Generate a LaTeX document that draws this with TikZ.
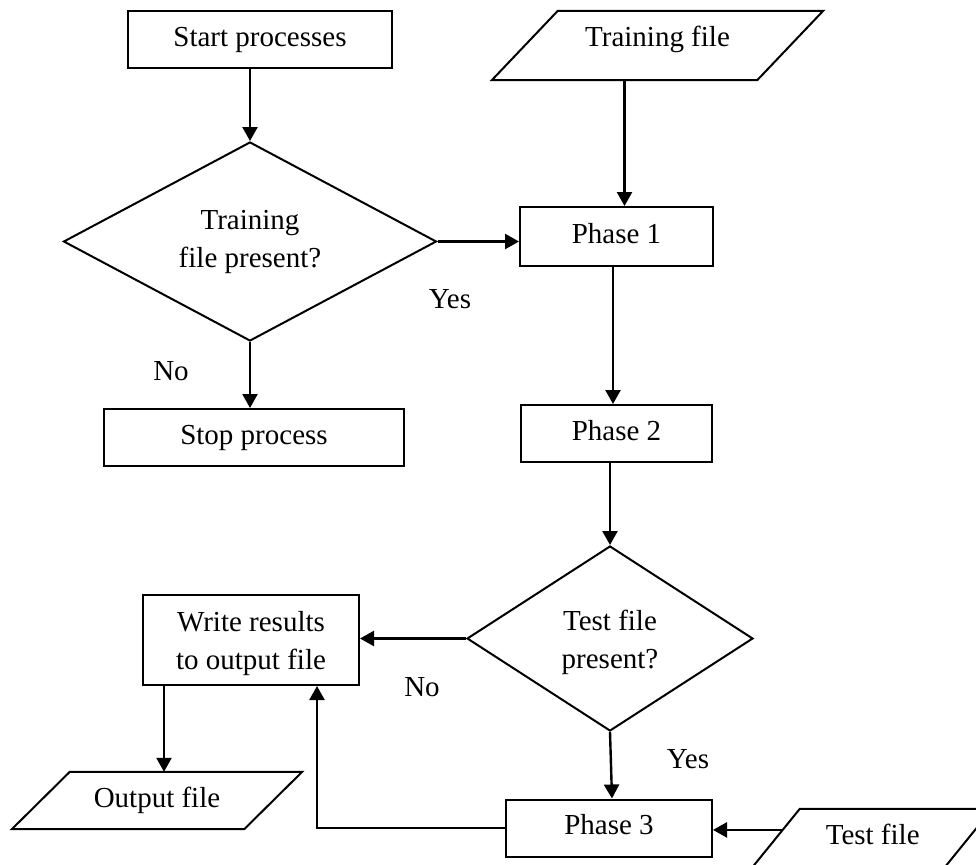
\documentclass[tikz,border=0pt]{standalone}
\usepackage{fontspec}
\setmainfont{Liberation Serif}
\usetikzlibrary{shapes.geometric,arrows.meta,calc}

% outline of an input/output parallelogram drawn round a (borderless) node
\newcommand\ioshape[2]{%
  \draw[line width=2pt,line join=miter]
    ([xshift=#2]#1.north west) -- ([xshift=#2]#1.north east) --
    ([xshift=-#2]#1.south east) -- ([xshift=-#2]#1.south west) -- cycle;}

\begin{document}
\begin{tikzpicture}[x=1pt,y=-1pt,
  every node/.style={font=\fontsize{29}{38}\selectfont},
  procbox/.style={draw,line width=2pt,rectangle,inner sep=0pt,
    text height=20pt,text depth=6.4pt,align=center},
  tallbox/.style={draw,line width=2pt,rectangle,inner sep=0pt,align=center},
  iobox/.style={rectangle,inner sep=0pt,text height=20pt,text depth=6.4pt},
  decision/.style={draw,line width=2pt,diamond,inner sep=0pt,align=center},
  flow/.style={line width=2.4pt,-{Triangle[length=14pt,width=15pt]}},
  lbl/.style={inner sep=0pt}
]
\useasboundingbox (0,0) rectangle (976,864);
\clip (0,0) rectangle (976,864);

% process boxes
\node[procbox,minimum width=264pt,minimum height=57pt] (start) at (260,39.5) {Start processes};
\node[procbox,minimum width=193pt,minimum height=59pt] (p1) at (616.5,236.5) {Phase 1};
\node[procbox,minimum width=300pt,minimum height=57pt] (stop) at (254,437.5) {Stop process};
\node[procbox,minimum width=191pt,minimum height=57pt] (p2) at (616.5,433.5) {Phase 2};
\node[tallbox,minimum width=216pt,minimum height=90pt] (wr) at (251,640) {\rule{0pt}{28pt}Write results\\to output file};
\node[procbox,minimum width=206pt,minimum height=57pt] (p3) at (609,828) {Phase 3};

% decisions
\node[decision,minimum width=373pt,minimum height=199pt,shape aspect=1.875] (d1) at (250,241.5) {Training\\file present?};
\node[decision,minimum width=286pt,minimum height=185pt,shape aspect=1.55] (d2) at (610,638.5) {\rule{0pt}{27.4pt}Test file\\present?};

% input / output data
\node[iobox,minimum width=265pt,minimum height=69pt,text depth=18.4pt] (trainfile) at (657.5,45.5) {Training file};
\ioshape{trainfile}{33pt}
\node[iobox,minimum width=232pt,minimum height=57pt] (out) at (157,800.5) {Output file};
\ioshape{out}{29pt}
\node[iobox,minimum width=192pt,minimum height=57pt] (tf) at (872.7,837.5) {Test file};
\ioshape{tf}{23.3pt}

% branch labels
\node[lbl] (yes1) at (450,299) {Yes};
\node[lbl] (no1) at (171,371) {No};
\node[lbl] (no2) at (422,687) {No};
\node[lbl] (yes2) at (688,759) {Yes};

% connectors
\draw[flow] (d1.north |- start.south) -- (d1.north);
\draw[flow] ([xshift=-33pt]trainfile.south) -- ([xshift=-33pt]trainfile.south |- p1.north);
\draw[flow] (d1.east) -- (d1.east -| p1.west);
\draw[flow] ([xshift=-3.5pt]p1.south) -- ([xshift=-3.5pt]p2.north);
\draw[flow] (d1.south) -- (d1.south |- stop.north);
\draw[flow] (d2.north |- p2.south) -- (d2.north);
\draw[flow] (d2.south) -- ([xshift=3pt]p3.north);
\draw[flow] (d2.west) -- (d2.west -| wr.east);
\draw[flow] ([xshift=22pt]wr.south west) -- ([xshift=22pt]wr.south west |- out.north);
\draw[flow] (p3.west) -| ([xshift=-43pt]wr.south east);
\coordinate (tfin) at ($([xshift=23.3pt]tf.north west)!0.368!([xshift=-23.3pt]tf.south west)$);
\draw[flow] (tfin) -- (tfin -| p3.east);
\end{tikzpicture}
\end{document}
